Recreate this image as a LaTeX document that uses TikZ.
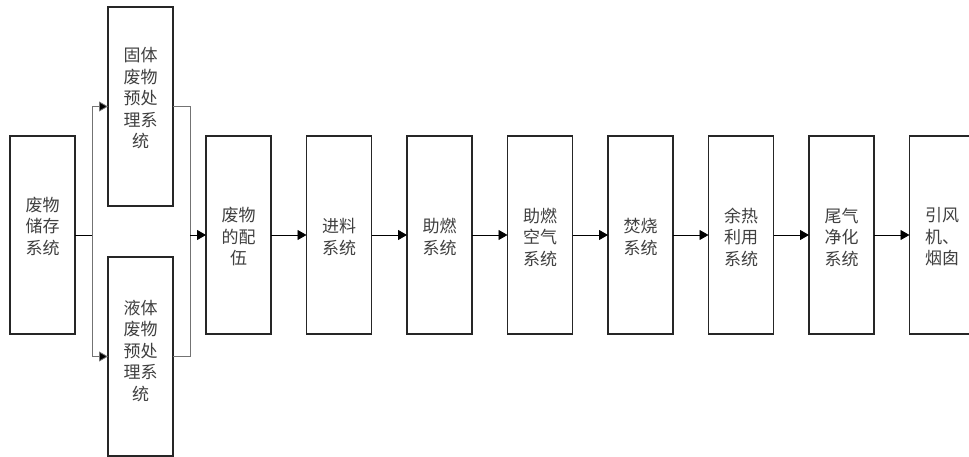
\documentclass[tikz,border=0pt]{standalone}
\usepackage{fontspec}
\newfontfamily\cjk{Noto Sans CJK SC}
\usetikzlibrary{arrows.meta}
\begin{document}
\begin{tikzpicture}[x=1pt,y=-1pt,
 box/.style={draw=black!85,line width=1.3pt,minimum width=65pt,minimum height=198pt,inner sep=0pt,outer sep=0pt,anchor=north west},
 tall/.style={minimum height=199pt},
 txt/.style={font=\cjk\fontsize{17pt}{21.5pt}\selectfont,text=black!75,align=center,inner sep=0pt},
 arr/.style={draw=black,line width=0.8pt,-{Triangle[length=9pt,width=10pt]}},
 gl/.style={draw=black!55,line width=0.8pt},
 garr/.style={gl,-{Triangle[length=9pt,width=10pt,fill=black]}}]
\useasboundingbox[fill=white] (0,0) rectangle (969,457);
% boxes
\node[box] (store) at (10,136) {};
\node[box,tall] (solid) at (108,7) {};
\node[box,tall] (liquid) at (108,257) {};
\node[box] (mix) at (206,136) {};
\node[box] (feed) at (306.5,136) {};
\node[box] (aux) at (407,136) {};
\node[box] (air) at (507.5,136) {};
\node[box] (burn) at (608,136) {};
\node[box] (heat) at (708.5,136) {};
\node[box] (gas) at (809,136) {};
\node[box] (fan) at (909.5,136) {};
% texts
\node[txt] (t1) at ([yshift=9pt]store.center) {废物\\储存\\系统};
\node[txt] (t2) at ([yshift=8pt]solid.center) {固体\\废物\\预处\\理系\\统};
\node[txt] (t3) at ([yshift=6pt]liquid.center) {液体\\废物\\预处\\理系\\统};
\node[txt] (t4) at ([yshift=-2pt]mix.center) {废物\\的配\\伍};
\node[txt] (t5) at ([yshift=-2pt]feed.center) {进料\\系统};
\node[txt] (t6) at ([yshift=-2pt]aux.center) {助燃\\系统};
\node[txt] (t7) at ([yshift=-2pt]air.center) {助燃\\空气\\系统};
\node[txt] (t8) at ([yshift=-2pt]burn.center) {焚烧\\系统};
\node[txt] (t9) at ([yshift=-2pt]heat.center) {余热\\利用\\系统};
\node[txt] (t10) at ([yshift=-2pt]gas.center) {尾气\\净化\\系统};
\node[txt] (t11) at ([yshift=-2pt]fan.center) {引风\\机、\\烟囱};
% split
\draw[line width=0.8pt] (store.east) -- ++(17,0) coordinate (j1);
\draw[garr] (j1) |- (solid.west);
\draw[garr] (j1) |- (liquid.west);
% merge
\coordinate (j2) at ([xshift=-16pt]mix.west);
\draw[gl] (solid.east) -| (j2);
\draw[gl] (liquid.east) -| (j2);
\draw[arr] (j2) -- (mix.west);
% chain
\draw[arr] (mix.east) -- (feed.west);
\draw[arr] (feed.east) -- (aux.west);
\draw[arr] (aux.east) -- (air.west);
\draw[arr] (air.east) -- (burn.west);
\draw[arr] (burn.east) -- (heat.west);
\draw[arr] (heat.east) -- (gas.west);
\draw[arr] (gas.east) -- (fan.west);
\end{tikzpicture}
\end{document}
